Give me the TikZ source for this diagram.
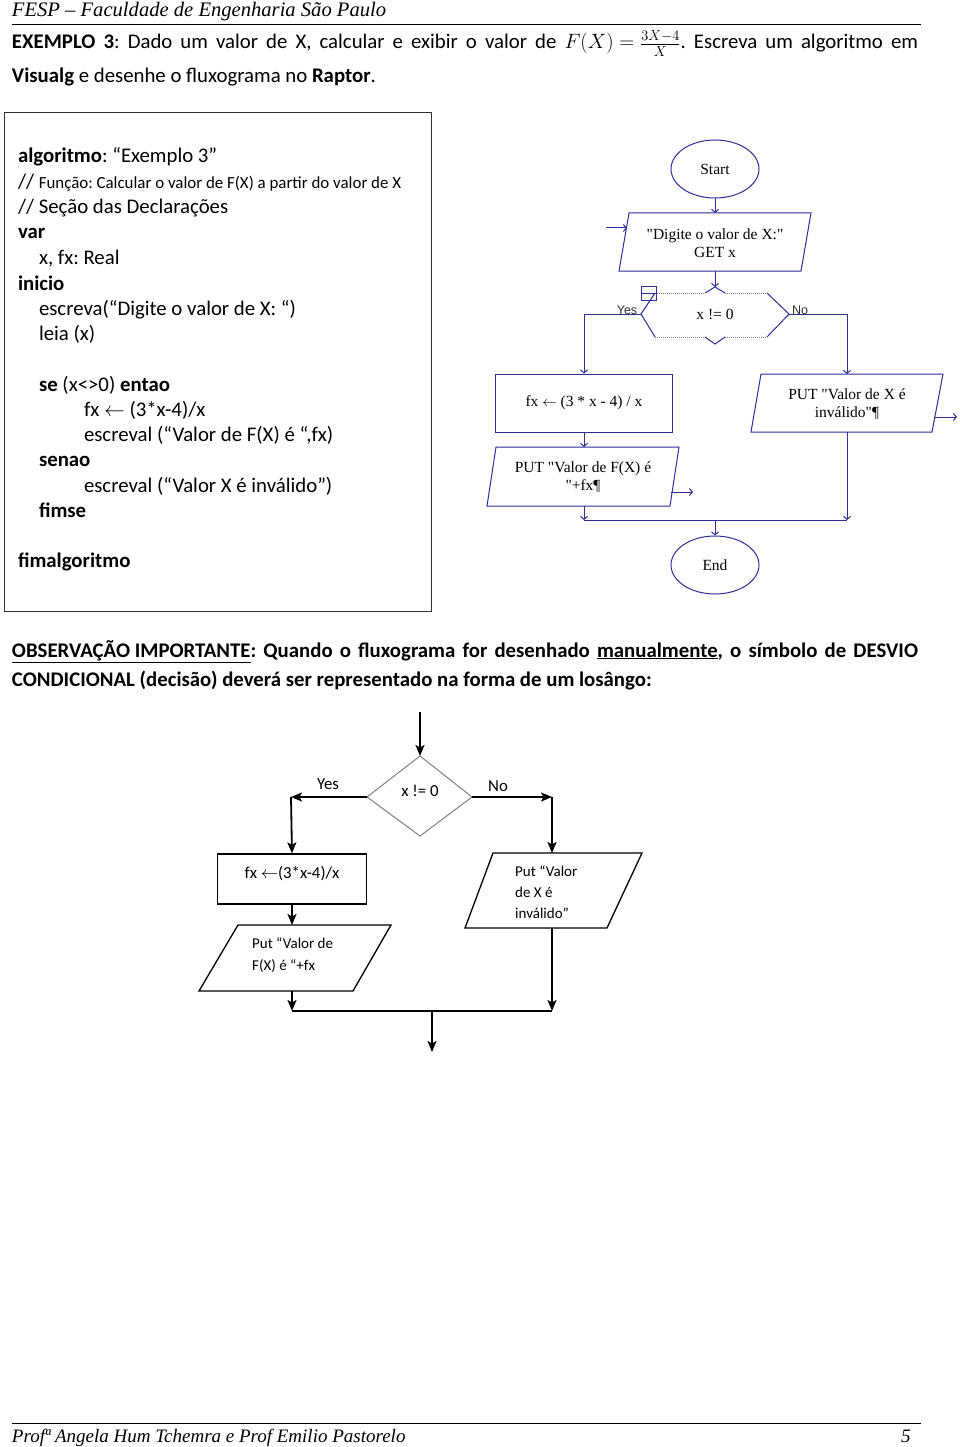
\documentclass[tikz,border=0pt]{standalone}
\usepackage{fontspec}
\setmainfont{Carlito}
\newfontfamily\tnr{Liberation Serif}
\newfontfamily\ars{Liberation Sans}
\usetikzlibrary{arrows.meta,shapes.geometric}
\definecolor{rblue}{RGB}{45,45,155}
\definecolor{dgray}{RGB}{50,50,50}
\frenchspacing
\tikzset{
  txt/.style={inner sep=0pt, outer sep=0pt, anchor=base west},
  body/.style={font=\fontsize{20.8}{24}\selectfont},
  rap/.style={draw=rblue, line width=1pt},
  rarrow/.style={rap, -{Straight Barb[length=3pt,width=7pt]}},
  rtxt/.style={font=\tnr\fontsize{15.5}{18}\selectfont, align=center, inner sep=0pt, text=black},
  rlab/.style={font=\ars\fontsize{12.5}{14}\selectfont, text=dgray, inner sep=0pt},
  bline/.style={draw=black, line width=1.8pt},
  barrow/.style={bline, -{Stealth[length=11pt,width=9pt,inset=2.5pt]}},
  bbox/.style={draw=black, line width=1.3pt},
  btxt/.style={font=\fontsize{16.8}{19}\selectfont, inner sep=0pt},
  stxt/.style={font=\fontsize{15}{17}\selectfont, inner sep=0pt, anchor=base west},
}
\begin{document}
\begin{tikzpicture}[x=1pt,y=-1pt]
\useasboundingbox (0,0) rectangle (960,1447);
\fill[white] (0,0) rectangle (960,1447);

% header
\node[txt, font=\tnr\itshape\fontsize{20.6}{24}\selectfont] (hdr) at (12,17) {FESP – Faculdade de Engenharia São Paulo};
\draw[line width=0.9pt] (12,24) -- (921,24);

% statement
\node[txt, body] (st1) at (12,49) {\makebox[906pt][s]{\textbf{EXEMPLO 3}: Dado um valor de X, calcular e exibir o valor de \mbox{$F(X)=\frac{3X-4}{X}$}. Escreva um algoritmo em}};
\node[txt, body] (st2) at (12,83) {\textbf{Visualg} e desenhe o fluxograma no \textbf{Raptor}.};

% algorithm box
\node[draw=dgray, line width=1.4pt, minimum width=427pt, minimum height=499pt, anchor=north west, inner sep=0pt] (algbox) at (4,112) {};
\begin{scope}[every node/.style={txt, body}]
\node (a1) at (18,163) {\textbf{algoritmo}: “Exemplo 3”};
\node (a2) at (18,189) {// {\fontsize{16.9}{19}\selectfont Função: Calcular o valor de F(X) a partir do valor de X}};
\node (a3) at (18,214) {// Seção das Declarações};
\node (a4) at (18,239) {\textbf{var}};
\node (a5) at (39,264) {x, fx: Real};
\node (a6) at (18,290) {\textbf{inicio}};
\node (a7) at (39,315) {escreva(“Digite o valor de X: “)};
\node (a8) at (39,340) {leia (x)};
\node (a9) at (39,391) {\textbf{se} (x<>0) \textbf{entao}};
\node (a10) at (84,416) {fx $\leftarrow$ (3*x-4)/x};
\node (a11) at (84,441) {escreval (“Valor de F(X) é “,fx)};
\node (a12) at (39,466) {\textbf{senao}};
\node (a13) at (84,492) {escreval (“Valor X é inválido”)};
\node (a14) at (39,517) {\textbf{fimse}};
\node (a15) at (18,567) {\textbf{fimalgoritmo}};
\end{scope}

% Raptor flowchart
\node[rap, ellipse, minimum width=88pt, minimum height=58pt, inner sep=0pt, rtxt] (start) at (715,169) {Start};
\draw[rap] (629,213) -- (811,213) -- (801,271) -- (619,271) -- cycle;
\node[rtxt] (inp) at (715,243) {"Digite o valor de X:"\\GET x};
\coordinate (inT) at (715,213);
\coordinate (inB) at (715,271);
\coordinate (inM0) at (606,228);
\coordinate (inM1) at (627,228);
\draw[rarrow] (start.south) -- (inT);
\draw[rarrow] (inM0) -- (inM1);

% decision
\coordinate (decT) at (715,287);
\coordinate (decL) at (641,314);
\coordinate (decR) at (789,314);
\draw[rap] (655,293) -- (decL) -- (655,337);
\draw[rap] (767,293) -- (decR) -- (767,337);
\draw[rap, draw=gray, densely dotted] (655,293) -- (705,293) (725,293) -- (767,293);
\draw[rap, draw=gray, densely dotted] (655,337) -- (705,337) (725,337) -- (767,337);
\draw[rap] (705,293) -- (decT) -- (725,293);
\draw[rap] (705,337) -- (715,344) -- (725,337);
\node[rtxt] (dec) at (715,314) {x != 0};
\draw[rarrow] (inB) -- (decT);
\draw[rap] (641,286) rectangle (656,300);
\draw[rap] (641,293) -- (656,293);
\node[rlab] (yes1) at (627,310) {Yes};
\node[rlab] (no1) at (800,310) {No};

% yes branch
\coordinate (yL) at (584,314);
\node[rap, minimum width=177pt, minimum height=58pt, inner sep=0pt, rtxt] (fx) at (584,403) {fx $\leftarrow$ (3 * x - 4) / x};
\draw[rarrow] (decL) -- (yL) -- (fx.north);
\draw[rap] (496,447) -- (679,447) -- (670,506) -- (487,506) -- cycle;
\node[rtxt] (putf) at (583,477) {PUT "Valor de F(X) é\\"+fx¶};
\coordinate (pfT) at (584,447);
\coordinate (pfB) at (584,506);
\coordinate (pfo0) at (671,492);
\coordinate (pfo1) at (693,492);
\draw[rarrow] (fx.south) -- (pfT);
\draw[rarrow] (pfo0) -- (pfo1);

% no branch
\coordinate (nR) at (847,314);
\coordinate (piT) at (847,374);
\coordinate (piB) at (847,432);
\draw[rap] (761,374) -- (943,374) -- (932,432) -- (751,432) -- cycle;
\node[rtxt] (puti) at (847,404) {PUT "Valor de X é\\inválido"¶};
\draw[rarrow] (decR) -- (nR) -- (piT);
\coordinate (pio0) at (934,417);
\coordinate (pio1) at (957,417);
\draw[rarrow] (pio0) -- (pio1);

% merge
\coordinate (mL) at (584,520);
\coordinate (mR) at (847,520);
\coordinate (mC) at (715,520);
\draw[rarrow] (pfB) -- (mL);
\draw[rarrow] (piB) -- (mR);
\draw[rap] (mL) -- (mR);
\node[rap, ellipse, minimum width=88pt, minimum height=58pt, inner sep=0pt, rtxt] (endn) at (715,565) {End};
\draw[rarrow] (mC) -- (endn.north);

% observation
\node[txt, body] (ob1) at (12,657) {\makebox[906pt][s]{\textbf{\underline{OBSERVAÇÃO IMPORTANTE}: Quando o fluxograma for desenhado \underline{manualmente}, o símbolo de DESVIO}}};
\node[txt, body] (ob2) at (12,686) {\textbf{CONDICIONAL (decisão) deverá ser representado na forma de um losângo:}};

% manual flowchart
\coordinate (t0) at (420,712);
\coordinate (dT) at (420,756);
\coordinate (dL) at (367,797);
\coordinate (dR) at (472,797);
\coordinate (dB) at (420,836);
\draw[draw=gray, line width=1pt] (dT) -- (dR) -- (dB) -- (dL) -- cycle;
\node[btxt] (dtxt) at (420,791) {x != 0};
\draw[barrow] (t0) -- (dT);
\node[btxt] (yes2) at (328,784) {Yes};
\node[btxt] (no2) at (498,786) {No};
\coordinate (yl) at (291,797);
\coordinate (nr) at (552,797);
\node[bbox, minimum width=149pt, minimum height=50pt, inner sep=0pt] (fx2) at (292,879) {};
\node[btxt] (fx2t) at (292,874) {fx $\leftarrow$(3*x-4)/x};
\draw[barrow] (dL) -- (yl);
\draw[barrow] (yl) -- (fx2.north);
\draw[barrow] (dR) -- (nr);
\coordinate (pi2T) at (552,853);
\draw[barrow] (nr) -- (pi2T);

\draw[bbox] (238,925) -- (391,925) -- (353,991) -- (199,991) -- cycle;
\node[stxt] (pf2a) at (252,948) {Put “Valor de};
\node[stxt] (pf2b) at (252,970) {F(X) é “+fx};
\coordinate (pf2T) at (292,925);
\coordinate (pf2B) at (292,991);
\draw[barrow] (fx2.south) -- (pf2T);

\draw[bbox] (493,853) -- (642,853) -- (607,928) -- (465,928) -- cycle;
\node[stxt] (pi2a) at (515,876) {Put “Valor};
\node[stxt] (pi2b) at (515,897) {de X é};
\node[stxt] (pi2c) at (515,918) {inválido”};
\coordinate (pi2B) at (552,928);

\coordinate (m2L) at (292,1011);
\coordinate (m2R) at (552,1011);
\coordinate (m2C) at (432,1011);
\coordinate (m2E) at (432,1052);
\draw[barrow] (pf2B) -- (m2L);
\draw[barrow] (pi2B) -- (m2R);
\draw[bline] (m2L) -- (m2R);
\draw[barrow] (m2C) -- (m2E);

% footer
\draw[line width=0.9pt] (12,1423) -- (921,1423);
\node[txt, font=\tnr\itshape\fontsize{19}{22}\selectfont] (ftr) at (12,1442) {Profª Angela Hum Tchemra e Prof Emilio Pastorelo};
\node[txt, font=\tnr\itshape\fontsize{19}{22}\selectfont] (pg) at (901,1442) {5};
\end{tikzpicture}
\end{document}
